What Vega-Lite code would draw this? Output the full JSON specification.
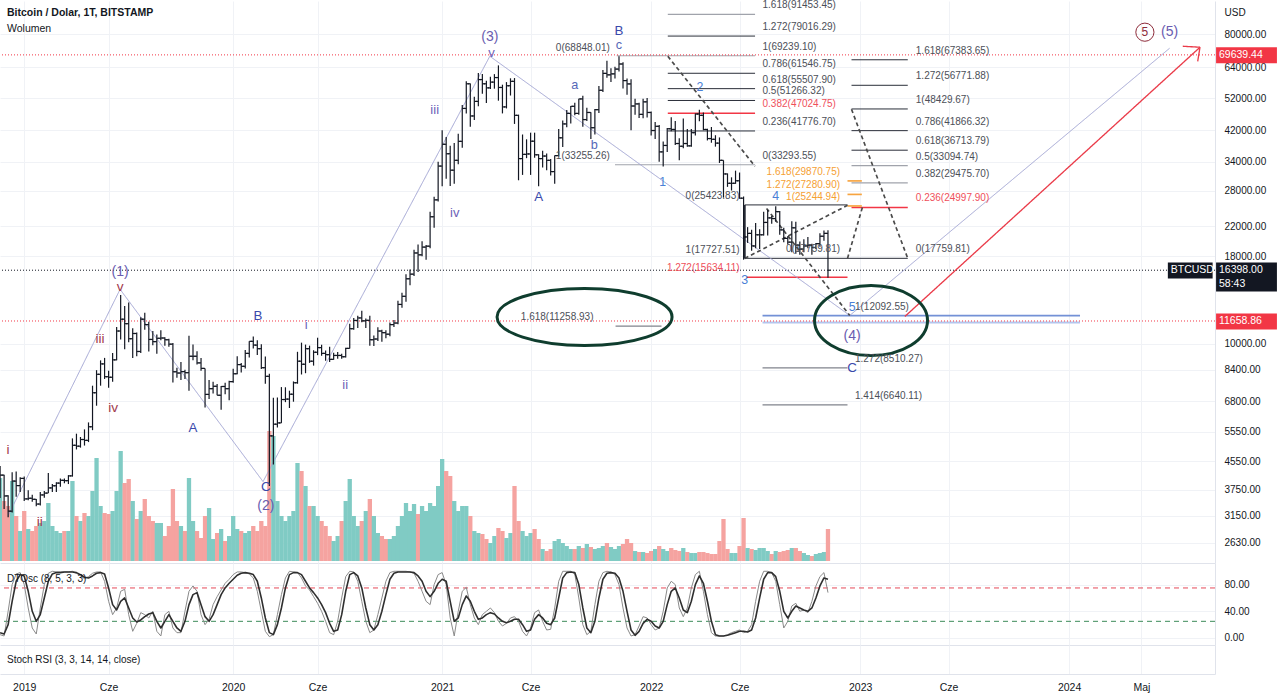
{
"$schema":"https://vega.github.io/schema/vega-lite/v6.json",
"padding":0,
"spacing":0,
"background":"white",
"config":{"view":{"stroke":null},"text":{"font":"Liberation Sans"},"axis":{"labelFont":"Liberation Sans","titleFont":"Liberation Sans"},"scale":{"continuousPadding":0}},
"datasets":{
"w":[
{"d":"2018-11-26","o":4010,"h":4400,"l":3550,"c":4140,"v":83,"k":5,"s":8},
{"d":"2018-12-03","o":4140,"h":4150,"l":3300,"c":3600,"v":60,"k":3,"s":6},
{"d":"2018-12-10","o":3600,"h":3620,"l":3122,"c":3250,"v":55,"k":40,"s":20},
{"d":"2018-12-17","o":3250,"h":4220,"l":3220,"c":3980,"v":80,"k":80,"s":55},
{"d":"2018-12-24","o":3980,"h":4240,"l":3580,"c":3860,"v":45,"k":96,"s":85},
{"d":"2018-12-31","o":3860,"h":4080,"l":3700,"c":4050,"v":30,"k":98,"s":95},
{"d":"2019-01-07","o":4050,"h":4100,"l":3480,"c":3530,"v":50,"k":80,"s":93},
{"d":"2019-01-14","o":3530,"h":3740,"l":3500,"c":3545,"v":32,"k":45,"s":70},
{"d":"2019-01-21","o":3545,"h":3630,"l":3460,"c":3520,"v":30,"k":15,"s":40},
{"d":"2019-01-28","o":3520,"h":3530,"l":3360,"c":3410,"v":35,"k":6,"s":25},
{"d":"2019-02-04","o":3410,"h":3700,"l":3375,"c":3625,"v":38,"k":45,"s":35},
{"d":"2019-02-11","o":3625,"h":3720,"l":3560,"c":3670,"v":40,"k":80,"s":60},
{"d":"2019-02-18","o":3670,"h":4200,"l":3670,"c":3800,"v":58,"k":97,"s":85},
{"d":"2019-02-25","o":3800,"h":3900,"l":3700,"c":3855,"v":35,"k":100,"s":96},
{"d":"2019-03-04","o":3855,"h":3950,"l":3700,"c":3925,"v":30,"k":99,"s":98},
{"d":"2019-03-11","o":3925,"h":4050,"l":3830,"c":4000,"v":28,"k":99,"s":98},
{"d":"2019-03-18","o":4000,"h":4050,"l":3920,"c":3990,"v":30,"k":99,"s":99},
{"d":"2019-03-25","o":3990,"h":4140,"l":3900,"c":4120,"v":30,"k":99,"s":99},
{"d":"2019-04-01","o":4120,"h":5300,"l":4100,"c":5060,"v":80,"k":100,"s":99},
{"d":"2019-04-08","o":5060,"h":5470,"l":4920,"c":5030,"v":45,"k":97,"s":98},
{"d":"2019-04-15","o":5030,"h":5350,"l":4980,"c":5260,"v":40,"k":93,"s":95},
{"d":"2019-04-22","o":5260,"h":5630,"l":5050,"c":5230,"v":48,"k":89,"s":91},
{"d":"2019-04-29","o":5230,"h":5900,"l":5170,"c":5730,"v":45,"k":92,"s":90},
{"d":"2019-05-06","o":5730,"h":7550,"l":5600,"c":7200,"v":70,"k":97,"s":93},
{"d":"2019-05-13","o":7200,"h":8380,"l":6600,"c":8150,"v":103,"k":99,"s":97},
{"d":"2019-05-20","o":8150,"h":8950,"l":7550,"c":8740,"v":55,"k":99,"s":98},
{"d":"2019-05-27","o":8740,"h":9100,"l":7900,"c":8020,"v":48,"k":85,"s":96},
{"d":"2019-06-03","o":8020,"h":8350,"l":7450,"c":7990,"v":47,"k":55,"s":75},
{"d":"2019-06-10","o":7990,"h":9400,"l":7750,"c":8980,"v":50,"k":35,"s":50},
{"d":"2019-06-17","o":8980,"h":11200,"l":8950,"c":10900,"v":70,"k":45,"s":42},
{"d":"2019-06-24","o":10900,"h":13880,"l":10300,"c":11800,"v":110,"k":70,"s":55},
{"d":"2019-07-01","o":11800,"h":12900,"l":9650,"c":11450,"v":78,"k":73,"s":60},
{"d":"2019-07-08","o":11450,"h":13200,"l":10100,"c":10350,"v":82,"k":35,"s":45},
{"d":"2019-07-15","o":10350,"h":11100,"l":9100,"c":10720,"v":60,"k":10,"s":30},
{"d":"2019-07-22","o":10720,"h":10800,"l":9200,"c":9500,"v":42,"k":22,"s":24},
{"d":"2019-07-29","o":9500,"h":11950,"l":9400,"c":11800,"v":50,"k":38,"s":27},
{"d":"2019-08-05","o":11800,"h":12330,"l":11000,"c":11380,"v":62,"k":35,"s":32},
{"d":"2019-08-12","o":11380,"h":11600,"l":9500,"c":10300,"v":45,"k":30,"s":36},
{"d":"2019-08-19","o":10300,"h":10900,"l":9900,"c":10150,"v":40,"k":40,"s":38},
{"d":"2019-08-26","o":10150,"h":10650,"l":9350,"c":10380,"v":38,"k":10,"s":25},
{"d":"2019-09-02","o":10380,"h":10950,"l":10250,"c":10400,"v":38,"k":3,"s":15},
{"d":"2019-09-09","o":10400,"h":10450,"l":9880,"c":10280,"v":25,"k":35,"s":25},
{"d":"2019-09-16","o":10280,"h":10350,"l":9800,"c":9980,"v":35,"k":40,"s":35},
{"d":"2019-09-23","o":9980,"h":10050,"l":7720,"c":8290,"v":72,"k":15,"s":25},
{"d":"2019-09-30","o":8290,"h":8520,"l":7960,"c":8220,"v":40,"k":8,"s":15},
{"d":"2019-10-07","o":8220,"h":8850,"l":7850,"c":8300,"v":35,"k":8,"s":10},
{"d":"2019-10-14","o":8300,"h":8400,"l":7900,"c":8240,"v":30,"k":40,"s":25},
{"d":"2019-10-21","o":8240,"h":10550,"l":7300,"c":9200,"v":83,"k":70,"s":50},
{"d":"2019-10-28","o":9200,"h":9950,"l":8960,"c":9200,"v":40,"k":78,"s":65},
{"d":"2019-11-04","o":9200,"h":9520,"l":8700,"c":8800,"v":30,"k":70,"s":68},
{"d":"2019-11-11","o":8800,"h":9100,"l":8350,"c":8480,"v":23,"k":35,"s":50},
{"d":"2019-11-18","o":8480,"h":8480,"l":6520,"c":7120,"v":45,"k":20,"s":32},
{"d":"2019-11-25","o":7120,"h":7850,"l":6900,"c":7400,"v":53,"k":28,"s":25},
{"d":"2019-12-02","o":7400,"h":7750,"l":7170,"c":7520,"v":22,"k":50,"s":35},
{"d":"2019-12-09","o":7520,"h":7640,"l":7080,"c":7080,"v":28,"k":62,"s":50},
{"d":"2019-12-16","o":7080,"h":7530,"l":6420,"c":7510,"v":32,"k":72,"s":65},
{"d":"2019-12-23","o":7510,"h":7700,"l":7130,"c":7400,"v":20,"k":82,"s":75},
{"d":"2019-12-30","o":7400,"h":7800,"l":6850,"c":7760,"v":25,"k":88,"s":82},
{"d":"2020-01-06","o":7760,"h":8460,"l":7700,"c":8180,"v":45,"k":95,"s":88},
{"d":"2020-01-13","o":8180,"h":9200,"l":8150,"c":8700,"v":32,"k":99,"s":94},
{"d":"2020-01-20","o":8700,"h":8790,"l":8250,"c":8600,"v":30,"k":99,"s":97},
{"d":"2020-01-27","o":8600,"h":9590,"l":8480,"c":9380,"v":28,"k":98,"s":98},
{"d":"2020-02-03","o":9380,"h":10170,"l":9120,"c":10170,"v":30,"k":96,"s":97},
{"d":"2020-02-10","o":10170,"h":10500,"l":9700,"c":9920,"v":35,"k":90,"s":95},
{"d":"2020-02-17","o":9920,"h":10250,"l":9280,"c":9680,"v":30,"k":70,"s":85},
{"d":"2020-02-24","o":9680,"h":9980,"l":8450,"c":8520,"v":40,"k":40,"s":60},
{"d":"2020-03-02","o":8520,"h":9180,"l":7650,"c":8040,"v":35,"k":10,"s":30},
{"d":"2020-03-09","o":8040,"h":8180,"l":3850,"c":5390,"v":130,"k":2,"s":8},
{"d":"2020-03-16","o":5390,"h":6960,"l":4450,"c":5830,"v":125,"k":5,"s":5},
{"d":"2020-03-23","o":5830,"h":6980,"l":5700,"c":5880,"v":60,"k":35,"s":20},
{"d":"2020-03-30","o":5880,"h":7480,"l":5880,"c":6880,"v":45,"k":65,"s":45},
{"d":"2020-04-06","o":6880,"h":7470,"l":6760,"c":6900,"v":40,"k":90,"s":75},
{"d":"2020-04-13","o":6900,"h":7300,"l":6500,"c":7130,"v":45,"k":100,"s":95},
{"d":"2020-04-20","o":7130,"h":7770,"l":6780,"c":7700,"v":50,"k":99,"s":98},
{"d":"2020-04-27","o":7700,"h":9480,"l":7650,"c":8900,"v":98,"k":98,"s":98},
{"d":"2020-05-04","o":8900,"h":10080,"l":8140,"c":8720,"v":90,"k":90,"s":95},
{"d":"2020-05-11","o":8720,"h":9950,"l":8210,"c":9680,"v":75,"k":78,"s":85},
{"d":"2020-05-18","o":9680,"h":9880,"l":8800,"c":8900,"v":55,"k":72,"s":75},
{"d":"2020-05-25","o":8900,"h":9580,"l":8640,"c":9450,"v":55,"k":62,"s":68},
{"d":"2020-06-01","o":9450,"h":10420,"l":9270,"c":9750,"v":45,"k":52,"s":60},
{"d":"2020-06-08","o":9750,"h":9940,"l":9230,"c":9380,"v":40,"k":40,"s":50},
{"d":"2020-06-15","o":9380,"h":9560,"l":8920,"c":9300,"v":35,"k":25,"s":38},
{"d":"2020-06-22","o":9300,"h":9800,"l":8850,"c":9010,"v":25,"k":8,"s":22},
{"d":"2020-06-29","o":9010,"h":9420,"l":8980,"c":9250,"v":20,"k":5,"s":10},
{"d":"2020-07-06","o":9250,"h":9470,"l":9050,"c":9250,"v":25,"k":25,"s":12},
{"d":"2020-07-13","o":9250,"h":9350,"l":9050,"c":9170,"v":40,"k":60,"s":35},
{"d":"2020-07-20","o":9170,"h":9740,"l":9130,"c":9700,"v":60,"k":92,"s":70},
{"d":"2020-07-27","o":9700,"h":11450,"l":9700,"c":11070,"v":82,"k":100,"s":95},
{"d":"2020-08-03","o":11070,"h":11900,"l":11000,"c":11700,"v":45,"k":99,"s":98},
{"d":"2020-08-10","o":11700,"h":12080,"l":11130,"c":11900,"v":35,"k":85,"s":93},
{"d":"2020-08-17","o":11900,"h":12480,"l":11570,"c":11670,"v":40,"k":55,"s":75},
{"d":"2020-08-24","o":11670,"h":11850,"l":11120,"c":11710,"v":50,"k":25,"s":45},
{"d":"2020-08-31","o":11710,"h":12080,"l":9880,"c":10280,"v":62,"k":8,"s":20},
{"d":"2020-09-07","o":10280,"h":10580,"l":9850,"c":10330,"v":45,"k":12,"s":12},
{"d":"2020-09-14","o":10330,"h":11180,"l":10200,"c":10900,"v":28,"k":35,"s":20},
{"d":"2020-09-21","o":10900,"h":10990,"l":10140,"c":10780,"v":25,"k":60,"s":40},
{"d":"2020-09-28","o":10780,"h":10960,"l":10380,"c":10670,"v":22,"k":85,"s":65},
{"d":"2020-10-05","o":10670,"h":11550,"l":10530,"c":11380,"v":22,"k":98,"s":88},
{"d":"2020-10-12","o":11380,"h":11730,"l":11200,"c":11500,"v":25,"k":100,"s":97},
{"d":"2020-10-19","o":11500,"h":13350,"l":11400,"c":13030,"v":35,"k":100,"s":99},
{"d":"2020-10-26","o":13030,"h":14100,"l":12750,"c":13760,"v":45,"k":100,"s":99},
{"d":"2020-11-02","o":13760,"h":15970,"l":13270,"c":15480,"v":58,"k":100,"s":99},
{"d":"2020-11-09","o":15480,"h":16480,"l":14830,"c":15970,"v":50,"k":99,"s":99},
{"d":"2020-11-16","o":15970,"h":18800,"l":15780,"c":18410,"v":57,"k":97,"s":98},
{"d":"2020-11-23","o":18410,"h":19480,"l":16200,"c":18180,"v":47,"k":85,"s":93},
{"d":"2020-11-30","o":18180,"h":19920,"l":18000,"c":19150,"v":55,"k":70,"s":85},
{"d":"2020-12-07","o":19150,"h":19420,"l":17600,"c":19270,"v":50,"k":55,"s":70},
{"d":"2020-12-14","o":19270,"h":24280,"l":19000,"c":23480,"v":58,"k":50,"s":62},
{"d":"2020-12-21","o":23480,"h":26860,"l":21800,"c":26300,"v":55,"k":80,"s":70},
{"d":"2020-12-28","o":26300,"h":34000,"l":26000,"c":33000,"v":75,"k":95,"s":82},
{"d":"2021-01-04","o":33000,"h":41950,"l":28800,"c":38200,"v":102,"k":98,"s":88},
{"d":"2021-01-11","o":38200,"h":40100,"l":30300,"c":35850,"v":90,"k":80,"s":85},
{"d":"2021-01-18","o":35850,"h":37850,"l":28850,"c":32100,"v":85,"k":30,"s":55},
{"d":"2021-01-25","o":32100,"h":38500,"l":29300,"c":34300,"v":60,"k":3,"s":25},
{"d":"2021-02-01","o":34300,"h":41000,"l":33400,"c":38960,"v":50,"k":40,"s":30},
{"d":"2021-02-08","o":38960,"h":49700,"l":37300,"c":48600,"v":55,"k":70,"s":50},
{"d":"2021-02-15","o":48600,"h":58350,"l":47000,"c":57350,"v":55,"k":76,"s":63},
{"d":"2021-02-22","o":57350,"h":57500,"l":43000,"c":46200,"v":45,"k":50,"s":55},
{"d":"2021-03-01","o":46200,"h":52600,"l":45000,"c":50950,"v":30,"k":30,"s":40},
{"d":"2021-03-08","o":50950,"h":61700,"l":49300,"c":59000,"v":28,"k":20,"s":28},
{"d":"2021-03-15","o":59000,"h":61200,"l":53600,"c":57350,"v":27,"k":35,"s":30},
{"d":"2021-03-22","o":57350,"h":58500,"l":50400,"c":55800,"v":22,"k":40,"s":35},
{"d":"2021-03-29","o":55800,"h":60100,"l":55400,"c":58000,"v":18,"k":45,"s":38},
{"d":"2021-04-05","o":58000,"h":61200,"l":55500,"c":59800,"v":25,"k":38,"s":36},
{"d":"2021-04-12","o":59800,"h":64900,"l":51200,"c":55950,"v":33,"k":25,"s":30},
{"d":"2021-04-19","o":55950,"h":57000,"l":47000,"c":49100,"v":30,"k":18,"s":25},
{"d":"2021-04-26","o":49100,"h":58000,"l":48600,"c":56600,"v":23,"k":22,"s":23},
{"d":"2021-05-03","o":56600,"h":59500,"l":53000,"c":58300,"v":28,"k":30,"s":25},
{"d":"2021-05-10","o":58300,"h":59600,"l":43800,"c":46400,"v":75,"k":32,"s":28},
{"d":"2021-05-17","o":46400,"h":46600,"l":30000,"c":34700,"v":40,"k":25,"s":28},
{"d":"2021-05-24","o":34700,"h":40800,"l":31100,"c":35700,"v":30,"k":10,"s":20},
{"d":"2021-05-31","o":35700,"h":39500,"l":34800,"c":35800,"v":25,"k":3,"s":10},
{"d":"2021-06-07","o":35800,"h":41300,"l":31100,"c":39000,"v":28,"k":15,"s":12},
{"d":"2021-06-14","o":39000,"h":41300,"l":34900,"c":35600,"v":32,"k":38,"s":28},
{"d":"2021-06-21","o":35600,"h":35700,"l":28800,"c":34700,"v":22,"k":42,"s":35},
{"d":"2021-06-28","o":34700,"h":36600,"l":32700,"c":35300,"v":12,"k":25,"s":30},
{"d":"2021-07-05","o":35300,"h":35900,"l":32100,"c":34300,"v":10,"k":12,"s":22},
{"d":"2021-07-12","o":34300,"h":34600,"l":31000,"c":31800,"v":12,"k":13,"s":20},
{"d":"2021-07-19","o":31800,"h":35400,"l":29300,"c":35400,"v":20,"k":45,"s":30},
{"d":"2021-07-26","o":35400,"h":42300,"l":35200,"c":39900,"v":22,"k":85,"s":60},
{"d":"2021-08-02","o":39900,"h":44800,"l":37500,"c":43800,"v":18,"k":100,"s":90},
{"d":"2021-08-09","o":43800,"h":48100,"l":42800,"c":47000,"v":15,"k":100,"s":98},
{"d":"2021-08-16","o":47000,"h":49400,"l":43900,"c":49300,"v":12,"k":100,"s":99},
{"d":"2021-08-23","o":49300,"h":50500,"l":46400,"c":47000,"v":12,"k":96,"s":98},
{"d":"2021-08-30","o":47000,"h":51900,"l":46600,"c":51800,"v":15,"k":60,"s":80},
{"d":"2021-09-06","o":51800,"h":52900,"l":43000,"c":45100,"v":13,"k":20,"s":45},
{"d":"2021-09-13","o":45100,"h":48800,"l":44700,"c":47300,"v":17,"k":5,"s":15},
{"d":"2021-09-20","o":47300,"h":47400,"l":39600,"c":42700,"v":14,"k":10,"s":8},
{"d":"2021-09-27","o":42700,"h":48400,"l":40800,"c":48200,"v":12,"k":50,"s":25},
{"d":"2021-10-04","o":48200,"h":56500,"l":47100,"c":54900,"v":13,"k":85,"s":60},
{"d":"2021-10-11","o":54900,"h":62900,"l":54300,"c":61500,"v":15,"k":98,"s":88},
{"d":"2021-10-18","o":61500,"h":67000,"l":59700,"c":60900,"v":18,"k":100,"s":97},
{"d":"2021-10-25","o":60900,"h":63700,"l":58000,"c":61300,"v":14,"k":99,"s":98},
{"d":"2021-11-01","o":61300,"h":64300,"l":59400,"c":63300,"v":12,"k":95,"s":97},
{"d":"2021-11-08","o":63300,"h":69000,"l":62300,"c":65500,"v":15,"k":80,"s":90},
{"d":"2021-11-15","o":65500,"h":66300,"l":55600,"c":58600,"v":17,"k":45,"s":70},
{"d":"2021-11-22","o":58600,"h":59400,"l":53300,"c":57300,"v":22,"k":15,"s":40},
{"d":"2021-11-29","o":57300,"h":59100,"l":42000,"c":49400,"v":18,"k":3,"s":12},
{"d":"2021-12-06","o":49400,"h":51900,"l":46600,"c":50100,"v":10,"k":5,"s":4},
{"d":"2021-12-13","o":50100,"h":50500,"l":45600,"c":46700,"v":9,"k":18,"s":10},
{"d":"2021-12-20","o":46700,"h":51900,"l":45500,"c":50800,"v":9,"k":32,"s":22},
{"d":"2021-12-27","o":50800,"h":52100,"l":45700,"c":47300,"v":8,"k":30,"s":28},
{"d":"2022-01-03","o":47300,"h":47600,"l":40500,"c":41900,"v":10,"k":20,"s":25},
{"d":"2022-01-10","o":41900,"h":44400,"l":39600,"c":43100,"v":12,"k":12,"s":18},
{"d":"2022-01-17","o":43100,"h":43500,"l":34000,"c":36300,"v":15,"k":15,"s":15},
{"d":"2022-01-24","o":36300,"h":38900,"l":32900,"c":37900,"v":12,"k":40,"s":25},
{"d":"2022-01-31","o":37900,"h":42600,"l":36300,"c":42400,"v":10,"k":75,"s":50},
{"d":"2022-02-07","o":42400,"h":45800,"l":41700,"c":42200,"v":13,"k":85,"s":70},
{"d":"2022-02-14","o":42200,"h":44700,"l":38000,"c":38400,"v":11,"k":80,"s":75},
{"d":"2022-02-21","o":38400,"h":39800,"l":34300,"c":37700,"v":10,"k":45,"s":60},
{"d":"2022-02-28","o":37700,"h":45400,"l":37200,"c":38400,"v":13,"k":32,"s":42},
{"d":"2022-03-07","o":38400,"h":42300,"l":37600,"c":37800,"v":9,"k":45,"s":38},
{"d":"2022-03-14","o":37800,"h":42300,"l":37600,"c":41300,"v":8,"k":75,"s":55},
{"d":"2022-03-21","o":41300,"h":47000,"l":40500,"c":46800,"v":8,"k":95,"s":80},
{"d":"2022-03-28","o":46800,"h":48200,"l":44600,"c":46400,"v":9,"k":100,"s":93},
{"d":"2022-04-04","o":46400,"h":47300,"l":42000,"c":42200,"v":9,"k":70,"s":82},
{"d":"2022-04-11","o":42200,"h":42400,"l":39200,"c":39700,"v":8,"k":35,"s":55},
{"d":"2022-04-18","o":39700,"h":42900,"l":38600,"c":39500,"v":7,"k":8,"s":25},
{"d":"2022-04-25","o":39500,"h":40600,"l":37600,"c":38500,"v":7,"k":3,"s":5},
{"d":"2022-05-02","o":38500,"h":40000,"l":33700,"c":34300,"v":20,"k":3,"s":3},
{"d":"2022-05-09","o":34300,"h":34300,"l":26700,"c":31300,"v":42,"k":3,"s":3},
{"d":"2022-05-16","o":31300,"h":31400,"l":28700,"c":29400,"v":12,"k":5,"s":4},
{"d":"2022-05-23","o":29400,"h":30600,"l":28000,"c":29400,"v":8,"k":8,"s":6},
{"d":"2022-05-30","o":29400,"h":32000,"l":29300,"c":29900,"v":8,"k":10,"s":8},
{"d":"2022-06-06","o":29900,"h":31600,"l":26500,"c":26600,"v":15,"k":12,"s":10},
{"d":"2022-06-13","o":26600,"h":26900,"l":17600,"c":20500,"v":43,"k":8,"s":10},
{"d":"2022-06-20","o":20500,"h":21900,"l":19700,"c":21000,"v":13,"k":10,"s":9},
{"d":"2022-06-27","o":21000,"h":21500,"l":18700,"c":19300,"v":12,"k":20,"s":12},
{"d":"2022-07-04","o":19300,"h":22500,"l":19000,"c":20800,"v":11,"k":55,"s":30},
{"d":"2022-07-11","o":20800,"h":21600,"l":18900,"c":20800,"v":13,"k":85,"s":60},
{"d":"2022-07-18","o":20800,"h":24300,"l":20700,"c":22600,"v":13,"k":100,"s":88},
{"d":"2022-07-25","o":22600,"h":24600,"l":20700,"c":23300,"v":10,"k":100,"s":98},
{"d":"2022-08-01","o":23300,"h":23600,"l":22400,"c":23200,"v":7,"k":98,"s":98},
{"d":"2022-08-08","o":23200,"h":25200,"l":22700,"c":24300,"v":10,"k":85,"s":92},
{"d":"2022-08-15","o":24300,"h":24400,"l":20800,"c":21500,"v":9,"k":50,"s":70},
{"d":"2022-08-22","o":21500,"h":21800,"l":19800,"c":20300,"v":10,"k":15,"s":40},
{"d":"2022-08-29","o":20300,"h":20600,"l":19500,"c":19800,"v":11,"k":25,"s":30},
{"d":"2022-09-05","o":19800,"h":22800,"l":18500,"c":21800,"v":13,"k":48,"s":40},
{"d":"2022-09-12","o":21800,"h":22700,"l":18300,"c":19400,"v":13,"k":52,"s":48},
{"d":"2022-09-19","o":19400,"h":19900,"l":18200,"c":18900,"v":10,"k":40,"s":45},
{"d":"2022-09-26","o":18900,"h":20200,"l":18500,"c":19300,"v":8,"k":42,"s":42},
{"d":"2022-10-03","o":19300,"h":20500,"l":19000,"c":19400,"v":6,"k":38,"s":40},
{"d":"2022-10-10","o":19400,"h":19600,"l":18200,"c":19100,"v":5,"k":55,"s":45},
{"d":"2022-10-17","o":19100,"h":19700,"l":18900,"c":19600,"v":7,"k":78,"s":60},
{"d":"2022-10-24","o":19600,"h":21000,"l":19200,"c":20600,"v":8,"k":92,"s":78},
{"d":"2022-10-31","o":20600,"h":21400,"l":20000,"c":21000,"v":9,"k":98,"s":90},
{"d":"2022-11-07","o":21000,"h":21450,"l":15600,"c":16398,"v":32,"k":68,"s":88}
],
"lv":[
{"d1":"2022-02-01","d2":"2022-07-03","p":91453.45,"k":"g"},
{"d1":"2022-02-01","d2":"2022-07-03","p":79016.29,"k":"b"},
{"d1":"2021-11-04","d2":"2022-07-03","p":69239.10,"k":"g"},
{"d1":"2022-02-01","d2":"2022-07-03","p":61546.75,"k":"b"},
{"d1":"2022-02-01","d2":"2022-07-03","p":55507.90,"k":"b"},
{"d1":"2022-02-01","d2":"2022-07-03","p":51266.32,"k":"b"},
{"d1":"2022-02-01","d2":"2022-07-03","p":47024.75,"k":"r"},
{"d1":"2022-02-01","d2":"2022-07-03","p":41776.70,"k":"b"},
{"d1":"2021-11-01","d2":"2022-07-03","p":33293.55,"k":"g"},
{"d1":"2022-12-18","d2":"2023-03-26","p":67383.65,"k":"b"},
{"d1":"2022-12-18","d2":"2023-03-26","p":56771.88,"k":"b"},
{"d1":"2022-12-18","d2":"2023-03-26","p":48429.67,"k":"b"},
{"d1":"2022-12-18","d2":"2023-03-26","p":41866.32,"k":"b"},
{"d1":"2022-12-18","d2":"2023-03-26","p":36713.79,"k":"b"},
{"d1":"2022-12-18","d2":"2023-03-26","p":33094.74,"k":"g"},
{"d1":"2022-12-18","d2":"2023-03-26","p":29475.70,"k":"g"},
{"d1":"2022-12-18","d2":"2023-03-26","p":24997.90,"k":"r"},
{"d1":"2022-06-15","d2":"2023-03-26","p":17759.81,"k":"b"},
{"d1":"2022-12-11","d2":"2023-01-05","p":29870.75,"k":"o"},
{"d1":"2022-12-11","d2":"2023-01-05","p":27280.90,"k":"o"},
{"d1":"2022-12-11","d2":"2023-01-05","p":25244.94,"k":"o"},
{"d1":"2022-06-15","d2":"2022-12-11","p":25423.83,"k":"b"},
{"d1":"2022-06-18","d2":"2022-12-11","p":15634.11,"k":"r"},
{"d1":"2022-07-16","d2":"2024-01-20","p":12092.55,"k":"bl"},
{"d1":"2022-07-16","d2":"2024-01-20","p":11545,"k":"bl2"},
{"d1":"2022-07-16","d2":"2022-12-11","p":8510.27,"k":"g1"},
{"d1":"2022-07-16","d2":"2022-12-11","p":6640.11,"k":"g1"},
{"d1":"2021-11-02","d2":"2022-01-21","p":11258.93,"k":"g1"}
],
"hl":[
{"p":69639.44,"k":"r"},
{"p":11658.86,"k":"r"},
{"p":16398,"k":"k"}
],
"seg":[
{"d1":"2018-12-10","p1":3155,"d2":"2019-06-23","p2":14420,"k":"w"},
{"d1":"2019-06-23","p1":14420,"d2":"2020-02-27","p2":3965,"k":"w"},
{"d1":"2020-02-27","p1":3965,"d2":"2021-03-28","p2":69000,"k":"w"},
{"d1":"2021-03-28","p1":69000,"d2":"2022-12-15","p2":12100,"k":"w"},
{"d1":"2022-12-15","p1":12100,"d2":"2024-06-24","p2":72800,"k":"w"},
{"d1":"2023-03-21","p1":12020,"d2":"2024-08-16","p2":73300,"k":"a"},
{"d1":"2024-08-16","p1":73300,"d2":"2024-07-17","p2":73800,"k":"a"},
{"d1":"2024-08-16","p1":73300,"d2":"2024-08-12","p2":66700,"k":"a"},
{"d1":"2022-02-01","p1":69000,"d2":"2022-07-03","p2":32940,"k":"ds"},
{"d1":"2022-07-23","p1":24830,"d2":"2022-12-15","p2":12100,"k":"ds"},
{"d1":"2022-06-15","p1":17750,"d2":"2022-12-11","p2":25350,"k":"ds"},
{"d1":"2022-12-11","p1":17750,"d2":"2023-01-07","p2":25350,"k":"ds"},
{"d1":"2022-12-18","p1":48310,"d2":"2023-03-26","p2":17750,"k":"ds"},
{"d1":"2022-06-15","p1":25423.83,"d2":"2022-06-15","p2":17727.51,"k":"bx"}
],
"lab":[
{"d":"2019-06-23","p":16150,"t":"(1)","k":"P"},
{"d":"2019-06-23","p":14600,"t":"v","k":"M"},
{"d":"2018-12-10","p":4890,"t":"i","k":"M"},
{"d":"2019-02-03","p":3030,"t":"ii","k":"M"},
{"d":"2019-05-19","p":10300,"t":"iii","k":"M"},
{"d":"2019-06-11","p":6520,"t":"iv","k":"M"},
{"d":"2019-10-28","p":5700,"t":"A","k":"B"},
{"d":"2020-02-18","p":12020,"t":"B","k":"B"},
{"d":"2020-03-03","p":3835,"t":"C","k":"B"},
{"d":"2020-03-03","p":3375,"t":"(2)","k":"P"},
{"d":"2020-05-12","p":11320,"t":"i","k":"V"},
{"d":"2020-07-19","p":7560,"t":"ii","k":"V"},
{"d":"2020-12-22","p":48000,"t":"iii","k":"V"},
{"d":"2021-01-26","p":24020,"t":"iv","k":"V"},
{"d":"2021-03-28","p":78600,"t":"(3)","k":"P"},
{"d":"2021-03-31","p":70600,"t":"v","k":"V"},
{"d":"2021-06-21","p":26750,"t":"A","k":"B"},
{"d":"2021-08-23","p":56750,"t":"a","k":"L"},
{"d":"2021-09-26","p":38000,"t":"b","k":"L"},
{"d":"2021-11-08","p":81600,"t":"B","k":"B"},
{"d":"2021-11-08","p":74300,"t":"c","k":"L"},
{"d":"2022-01-23","p":29580,"t":"1","k":"N"},
{"d":"2022-03-29","p":56000,"t":"2","k":"N"},
{"d":"2022-06-15","p":15310,"t":"3","k":"N"},
{"d":"2022-08-08","p":26920,"t":"4","k":"N"},
{"d":"2022-12-19","p":12770,"t":"5","k":"N"},
{"d":"2022-12-19","p":10510,"t":"(4)","k":"P"},
{"d":"2022-12-19","p":8475,"t":"C","k":"B"},
{"d":"2024-05-12","p":81100,"t":"5","k":"R"},
{"d":"2024-06-24","p":81300,"t":"(5)","k":"P"}
],
"circ":[{"d":"2024-05-12","p":81100}],
"flabL":[
{"d":"2022-07-16","p":91453.45,"t":"1.618(91453.45)","k":"g"},
{"d":"2022-07-16","p":79016.29,"t":"1.272(79016.29)","k":"g"},
{"d":"2022-07-16","p":69239.10,"t":"1(69239.10)","k":"g"},
{"d":"2022-07-16","p":61546.75,"t":"0.786(61546.75)","k":"g"},
{"d":"2022-07-16","p":55507.90,"t":"0.618(55507.90)","k":"g"},
{"d":"2022-07-16","p":51266.32,"t":"0.5(51266.32)","k":"g"},
{"d":"2022-07-16","p":47024.75,"t":"0.382(47024.75)","k":"r"},
{"d":"2022-07-16","p":41776.70,"t":"0.236(41776.70)","k":"g"},
{"d":"2022-07-16","p":33293.55,"t":"0(33293.55)","k":"g"},
{"d":"2023-04-09","p":67383.65,"t":"1.618(67383.65)","k":"g"},
{"d":"2023-04-09","p":56771.88,"t":"1.272(56771.88)","k":"g"},
{"d":"2023-04-09","p":48429.67,"t":"1(48429.67)","k":"g"},
{"d":"2023-04-09","p":41866.32,"t":"0.786(41866.32)","k":"g"},
{"d":"2023-04-09","p":36713.79,"t":"0.618(36713.79)","k":"g"},
{"d":"2023-04-09","p":33094.74,"t":"0.5(33094.74)","k":"g"},
{"d":"2023-04-09","p":29475.70,"t":"0.382(29475.70)","k":"g"},
{"d":"2023-04-09","p":24997.90,"t":"0.236(24997.90)","k":"r"},
{"d":"2023-04-09","p":17759.81,"t":"0(17759.81)","k":"g"},
{"d":"2022-12-24","p":12092.55,"t":"1(12092.55)","k":"g"},
{"d":"2022-12-24","p":8510.27,"t":"1.272(8510.27)","k":"g"},
{"d":"2022-12-24","p":6640.11,"t":"1.414(6640.11)","k":"g"},
{"d":"2021-05-21","p":11258.93,"t":"1.618(11258.93)","k":"g"}
],
"flabR":[
{"d":"2021-10-23","p":68848.01,"t":"0(68848.01)","k":"g"},
{"d":"2021-10-23","p":33255.26,"t":"1(33255.26)","k":"g"},
{"d":"2022-06-06","p":25423.83,"t":"0(25423.83)","k":"g"},
{"d":"2022-06-06","p":17727.51,"t":"1(17727.51)","k":"g"},
{"d":"2022-06-06","p":15634.11,"t":"1.272(15634.11)","k":"r"},
{"d":"2022-11-28","p":29870.75,"t":"1.618(29870.75)","k":"o"},
{"d":"2022-11-28","p":27280.90,"t":"1.272(27280.90)","k":"o"},
{"d":"2022-11-28","p":25244.94,"t":"1(25244.94)","k":"o"},
{"d":"2022-11-28","p":17759.81,"t":"0(17759.81)","k":"g"}
],
"ell":[
{"d":"2021-09-09","p":11980,"k":"e1"},
{"d":"2023-01-21","p":11700,"k":"e2"}
],
"hdr":[
{"d":"2018-12-08","p":92000,"t":"Bitcoin / Dolar, 1T, BITSTAMP","k":"b"},
{"d":"2018-12-08","p":82600,"t":"Wolumen","k":"n"}
],
"rb":[
{"d1":"2024-09-13","d2":"2024-12-28","p1":73300,"p2":65820,"k":"r"},
{"d1":"2024-09-13","d2":"2024-12-28","p1":17280,"p2":14220,"k":"k"},
{"d1":"2024-09-13","d2":"2024-12-28","p1":12265,"p2":11015,"k":"r"},
{"d1":"2024-06-21","d2":"2024-09-07","p1":17280,"p2":15510,"k":"k"}
],
"rbt":[
{"d":"2024-09-18","p":69639.44,"t":"69639.44"},
{"d":"2024-09-18","p":16398,"t":"16398.00"},
{"d":"2024-09-18","p":14910,"t":"58:43"},
{"d":"2024-09-18","p":11658.86,"t":"11658.86"},
{"d":"2024-06-26","p":16398,"t":"BTCUSD"}
],
"dl":[{"v":75,"k":"ob"},{"v":25,"k":"os"}],
"ptxt":[
{"d":"2018-12-08","v":88.5,"t":"DTOsc (8, 5, 3, 3)","k":"dto"},
{"d":"2018-12-08","v":0.5,"t":"Stoch RSI (3, 3, 14, 14, close)","k":"srsi"}
]
},
"vconcat":[
{
"width":1215,"height":562,
"layer":[
{
"data":{"name":"w"},
"mark":{"type":"bar","width":4.3,"clip":true},
"encoding":{
"x":{"field":"d","type":"temporal","scale":{"type":"utc","nice":false,"padding":0,"domain":[{"year":2018,"month":11,"date":25,"hours":20,"utc":true},{"year":2024,"month":9,"date":11,"hours":3,"utc":true}]},
"axis":{"values":[{"year":2019,"month":1,"date":7,"utc":true},{"year":2019,"month":6,"date":3,"utc":true},{"year":2020,"month":1,"date":6,"utc":true},{"year":2020,"month":6,"date":1,"utc":true},{"year":2021,"month":1,"date":4,"utc":true},{"year":2021,"month":6,"date":7,"utc":true},{"year":2022,"month":1,"date":3,"utc":true},{"year":2022,"month":6,"date":6,"utc":true},{"year":2023,"month":1,"date":2,"utc":true},{"year":2023,"month":6,"date":5,"utc":true},{"year":2024,"month":1,"date":1,"utc":true},{"year":2024,"month":5,"date":6,"utc":true}],"grid":true,"gridColor":"#f0f2f6","labels":false,"ticks":false,"domain":true,"domainColor":"#e0e3eb","title":null}},
"y":{"field":"v","type":"quantitative","scale":{"domain":[-2,560],"nice":false,"zero":false},"axis":null},
"color":{"condition":{"test":"datum.c >= datum.o","value":"#80cbc4"},"value":"#f5a3a0"}
}
},
{
"layer":[
{
"data":{"name":"lv"},
"mark":{"type":"rule"},
"encoding":{
"x":{"field":"d1","type":"temporal"},
"x2":{"field":"d2"},
"y":{"field":"p","type":"quantitative","scale":{"type":"log","domain":[2295,100000],"nice":false,"zero":false},
"axis":{"orient":"right","values":[2630,3150,3750,4550,5550,6800,8400,10000,18000,22000,28000,34000,42000,52000,64000,80000],"format":".2f","labelOverlap":false,"grid":true,"gridColor":"#f0f2f6","ticks":false,"domain":true,"domainColor":"#e0e3eb","labelFontSize":10,"labelColor":"#131722","labelPadding":9,"title":"USD","titleAngle":0,"titleAlign":"left","titleBaseline":"middle","titleX":9,"titleY":11,"titleFontSize":10,"titleFontWeight":"normal","titleColor":"#131722"}},
"color":{"field":"k","type":"nominal","scale":{"domain":["b","g","g1","r","o","bl","bl2"],"range":["#2a2e39","#a0a3ab","#80838c","#f23645","#f7a440","#7391d6","#b4c6ee"]},"legend":null},
"strokeWidth":{"field":"k","type":"ordinal","scale":{"domain":["b","g","g1","r","o","bl","bl2"],"range":[1,2,1.5,1.5,2,3,3]},"legend":null}
}
},
{
"data":{"name":"hl"},
"mark":{"type":"rule","strokeDash":[1,2],"strokeWidth":1,"clip":true},
"encoding":{
"y":{"field":"p","type":"quantitative"},
"color":{"field":"k","type":"nominal","scale":{"domain":["r","k"],"range":["#f23645","#131722"]},"legend":null}
}
},
{
"data":{"name":"seg"},
"mark":{"type":"rule"},
"encoding":{
"x":{"field":"d1","type":"temporal"},
"x2":{"field":"d2"},
"y":{"field":"p1","type":"quantitative"},
"y2":{"field":"p2"},
"color":{"field":"k","type":"nominal","scale":{"domain":["w","a","ds","bx"],"range":["#a3a6d4","#ea3b49","#4a4a4a","#2a2e39"]},"legend":null},
"strokeWidth":{"field":"k","type":"ordinal","scale":{"domain":["w","a","ds","bx"],"range":[1,2,1.2,1]},"legend":null},
"strokeDash":{"field":"k","type":"nominal","scale":{"domain":["w","a","ds","bx"],"range":[[1,0],[1,0],[4,3],[1,0]]},"legend":null}
}
},
{
"data":{"name":"w"},
"mark":{"type":"rule","color":"#131722","strokeWidth":1.2,"clip":true},
"encoding":{
"x":{"field":"d","type":"temporal"},
"y":{"field":"l","type":"quantitative"},
"y2":{"field":"h"}
}
},
{
"data":{"name":"w"},
"mark":{"type":"tick","orient":"horizontal","size":2.6,"thickness":1.2,"xOffset":-1.3,"color":"#131722","opacity":1,"clip":true},
"encoding":{
"x":{"field":"d","type":"temporal"},
"y":{"field":"o","type":"quantitative"}
}
},
{
"data":{"name":"w"},
"mark":{"type":"tick","orient":"horizontal","size":2.6,"thickness":1.2,"xOffset":1.3,"color":"#131722","opacity":1,"clip":true},
"encoding":{
"x":{"field":"d","type":"temporal"},
"y":{"field":"c","type":"quantitative"}
}
},
{
"data":{"name":"ell"},
"transform":[{"filter":"datum.k == 'e1'"}],
"mark":{"type":"point","shape":"M1,0C1,0.18 0.5523,0.326 0,0.326C-0.5523,0.326 -1,0.18 -1,0C-1,-0.18 -0.5523,-0.326 0,-0.326C0.5523,-0.326 1,-0.18 1,0Z","size":30625,"filled":false,"color":"#0f3d2e","strokeWidth":3,"opacity":1},
"encoding":{
"x":{"field":"d","type":"temporal"},
"y":{"field":"p","type":"quantitative"}
}
},
{
"data":{"name":"ell"},
"transform":[{"filter":"datum.k == 'e2'"}],
"mark":{"type":"point","shape":"M1,0C1,0.342 0.5523,0.62 0,0.62C-0.5523,0.62 -1,0.342 -1,0C-1,-0.342 -0.5523,-0.62 0,-0.62C0.5523,-0.62 1,-0.342 1,0Z","size":12769,"filled":false,"color":"#0f3d2e","strokeWidth":3,"opacity":1},
"encoding":{
"x":{"field":"d","type":"temporal"},
"y":{"field":"p","type":"quantitative"}
}
},
{
"data":{"name":"circ"},
"mark":{"type":"point","shape":"circle","size":330,"filled":false,"color":"#8e2b3a","strokeWidth":1,"opacity":1},
"encoding":{
"x":{"field":"d","type":"temporal"},
"y":{"field":"p","type":"quantitative"}
}
},
{
"data":{"name":"lab"},
"mark":{"type":"text","align":"center","baseline":"middle","font":"Liberation Sans"},
"encoding":{
"x":{"field":"d","type":"temporal"},
"y":{"field":"p","type":"quantitative"},
"text":{"field":"t"},
"color":{"field":"k","type":"nominal","scale":{"domain":["P","M","B","V","L","N","R"],"range":["#6a5cb0","#a23a4c","#3949ab","#6d62b8","#5568b8","#4a7fd6","#8e2b3a"]},"legend":null},
"size":{"field":"k","type":"ordinal","scale":{"domain":["P","M","B","V","L","N","R"],"range":[14,12,14,11,13,14,13]},"legend":null}
}
},
{
"data":{"name":"flabL"},
"mark":{"type":"text","align":"left","baseline":"middle","dy":-9,"fontSize":10,"font":"Liberation Sans"},
"encoding":{
"x":{"field":"d","type":"temporal"},
"y":{"field":"p","type":"quantitative"},
"text":{"field":"t"},
"color":{"field":"k","type":"nominal","scale":{"domain":["g","r","o"],"range":["#4c4f58","#ef4f5b","#f5a033"]},"legend":null}
}
},
{
"data":{"name":"flabR"},
"mark":{"type":"text","align":"right","baseline":"middle","dy":-9,"fontSize":10,"font":"Liberation Sans"},
"encoding":{
"x":{"field":"d","type":"temporal"},
"y":{"field":"p","type":"quantitative"},
"text":{"field":"t"},
"color":{"field":"k","type":"nominal","scale":{"domain":["g","r","o"],"range":["#4c4f58","#ef4f5b","#f5a033"]},"legend":null}
}
},
{
"data":{"name":"hdr"},
"transform":[{"filter":"datum.k == 'b'"}],
"mark":{"type":"text","align":"left","baseline":"middle","fontSize":10.5,"fontWeight":"bold","color":"#131722","font":"Liberation Sans"},
"encoding":{
"x":{"field":"d","type":"temporal"},
"y":{"field":"p","type":"quantitative"},
"text":{"field":"t"}
}
},
{
"data":{"name":"hdr"},
"transform":[{"filter":"datum.k == 'n'"}],
"mark":{"type":"text","align":"left","baseline":"middle","fontSize":10.5,"color":"#131722","font":"Liberation Sans"},
"encoding":{
"x":{"field":"d","type":"temporal"},
"y":{"field":"p","type":"quantitative"},
"text":{"field":"t"}
}
},
{
"data":{"name":"rb"},
"mark":{"type":"rect"},
"encoding":{
"x":{"field":"d1","type":"temporal"},
"x2":{"field":"d2"},
"y":{"field":"p1","type":"quantitative"},
"y2":{"field":"p2"},
"color":{"field":"k","type":"nominal","scale":{"domain":["r","k"],"range":["#f23645","#131722"]},"legend":null}
}
},
{
"data":{"name":"rbt"},
"mark":{"type":"text","align":"left","baseline":"middle","fontSize":10.5,"color":"#ffffff","font":"Liberation Sans"},
"encoding":{
"x":{"field":"d","type":"temporal"},
"y":{"field":"p","type":"quantitative"},
"text":{"field":"t"}
}
}
],
"resolve":{"scale":{"color":"independent","strokeWidth":"independent","strokeDash":"independent","size":"independent"}}
}
],
"resolve":{"scale":{"y":"independent"}}
},
{
"width":1215,"height":82,
"layer":[
{
"data":{"name":"dl"},
"mark":{"type":"rule","strokeDash":[5,4],"strokeWidth":1,"clip":true},
"encoding":{
"y":{"field":"v","type":"quantitative","scale":{"domain":[-10.5,112.4],"nice":false,"zero":false},
"axis":{"orient":"right","values":[0,40,80],"format":".2f","grid":true,"gridColor":"#f0f2f6","ticks":false,"domainColor":"#e0e3eb","labelFontSize":10,"labelColor":"#131722","labelPadding":9,"title":null}},
"color":{"field":"k","type":"nominal","scale":{"domain":["ob","os"],"range":["#e54a58","#3d8b5a"]},"legend":null}
}
},
{
"data":{"name":"w"},
"mark":{"type":"line","color":"#8a8a8a","strokeWidth":1,"clip":true,"strokeJoin":"round"},
"encoding":{
"x":{"field":"d","type":"temporal","scale":{"type":"utc","nice":false,"padding":0,"domain":[{"year":2018,"month":11,"date":25,"hours":20,"utc":true},{"year":2024,"month":9,"date":11,"hours":3,"utc":true}]},
"axis":{"values":[{"year":2019,"month":1,"date":7,"utc":true},{"year":2019,"month":6,"date":3,"utc":true},{"year":2020,"month":1,"date":6,"utc":true},{"year":2020,"month":6,"date":1,"utc":true},{"year":2021,"month":1,"date":4,"utc":true},{"year":2021,"month":6,"date":7,"utc":true},{"year":2022,"month":1,"date":3,"utc":true},{"year":2022,"month":6,"date":6,"utc":true},{"year":2023,"month":1,"date":2,"utc":true},{"year":2023,"month":6,"date":5,"utc":true},{"year":2024,"month":1,"date":1,"utc":true},{"year":2024,"month":5,"date":6,"utc":true}],"grid":true,"gridColor":"#f0f2f6","labels":false,"ticks":false,"domain":true,"domainColor":"#e0e3eb","title":null}},
"y":{"field":"k","type":"quantitative"}
}
},
{
"data":{"name":"w"},
"mark":{"type":"line","color":"#2f2f2f","strokeWidth":1.6,"clip":true,"strokeJoin":"round"},
"encoding":{
"x":{"field":"d","type":"temporal"},
"y":{"field":"s","type":"quantitative"}
}
},
{
"data":{"name":"ptxt"},
"transform":[{"filter":"datum.k == 'dto'"}],
"mark":{"type":"text","align":"left","baseline":"middle","fontSize":10,"color":"#131722","font":"Liberation Sans"},
"encoding":{
"x":{"field":"d","type":"temporal"},
"y":{"field":"v","type":"quantitative"},
"text":{"field":"t"}
}
}
]
},
{
"width":1215,"height":29,
"layer":[
{
"data":{"name":"ptxt"},
"transform":[{"filter":"datum.k == 'srsi'"}],
"mark":{"type":"text","align":"left","baseline":"middle","fontSize":10,"color":"#131722","font":"Liberation Sans"},
"encoding":{
"x":{"field":"d","type":"temporal","scale":{"type":"utc","nice":false,"padding":0,"domain":[{"year":2018,"month":11,"date":25,"hours":20,"utc":true},{"year":2024,"month":9,"date":11,"hours":3,"utc":true}]},
"axis":{"values":[{"year":2019,"month":1,"date":7,"utc":true},{"year":2019,"month":6,"date":3,"utc":true},{"year":2020,"month":1,"date":6,"utc":true},{"year":2020,"month":6,"date":1,"utc":true},{"year":2021,"month":1,"date":4,"utc":true},{"year":2021,"month":6,"date":7,"utc":true},{"year":2022,"month":1,"date":3,"utc":true},{"year":2022,"month":6,"date":6,"utc":true},{"year":2023,"month":1,"date":2,"utc":true},{"year":2023,"month":6,"date":5,"utc":true},{"year":2024,"month":1,"date":1,"utc":true},{"year":2024,"month":5,"date":6,"utc":true}],"grid":true,"gridColor":"#f0f2f6","ticks":false,"domain":true,"domainColor":"#e0e3eb","labelExpr":"utcmonth(datum.value) == 0 ? utcFormat(datum.value, '%Y') : (utcmonth(datum.value) == 4 ? 'Maj' : 'Cze')","labelFontSize":10.5,"labelColor":"#131722","labelPadding":8,"labelOverlap":false,"title":null}},
"y":{"field":"v","type":"quantitative","scale":{"domain":[0,1]},"axis":{"orient":"right","labels":false,"ticks":false,"grid":false,"title":null,"domainColor":"#e0e3eb"}},
"text":{"field":"t"}
}
}
]
}
]
}
